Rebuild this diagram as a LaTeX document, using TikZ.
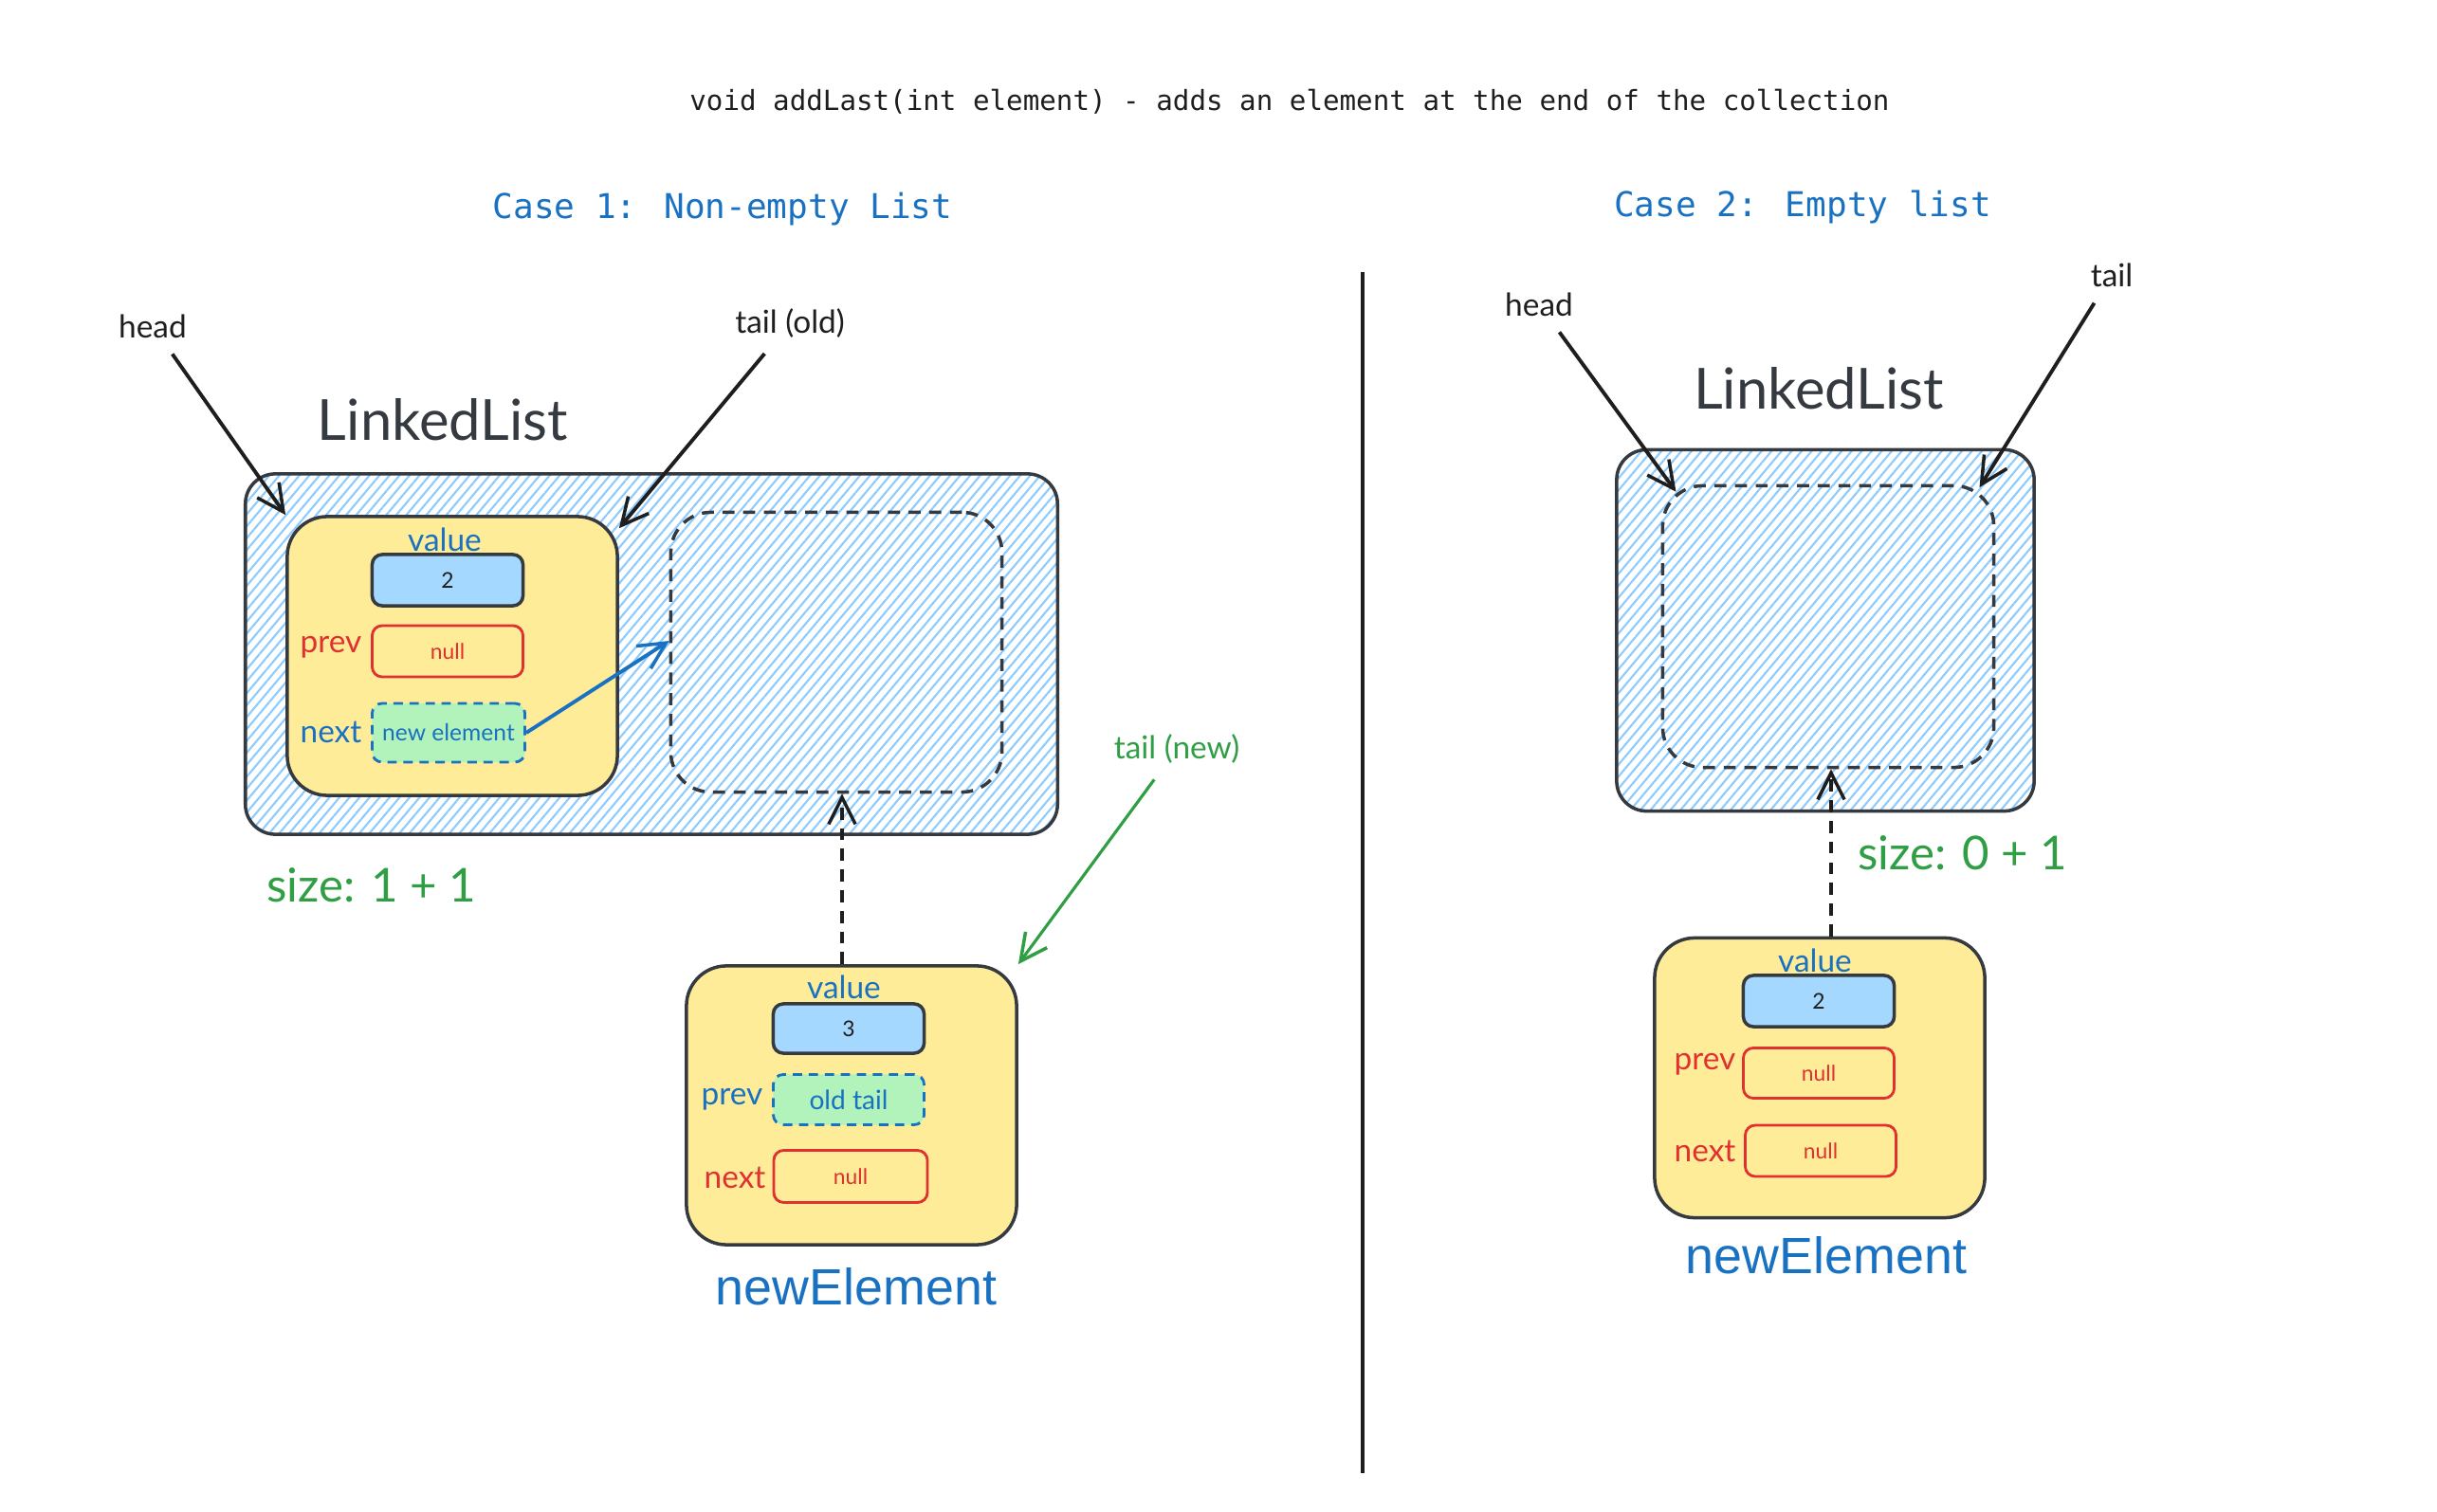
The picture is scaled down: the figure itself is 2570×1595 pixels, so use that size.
\documentclass[tikz,border=0pt]{standalone}
\usepackage{fontspec}
\setmainfont{Lato}
\newfontfamily\codefont{DejaVu Sans Mono}
\newfontfamily\helvfont{Liberation Sans}
\usetikzlibrary{arrows.meta,patterns.meta}
\definecolor{inkc}{HTML}{1E1E1E}
\definecolor{boxc}{HTML}{343A40}
\definecolor{bluec}{HTML}{1971C2}
\definecolor{redc}{HTML}{E03131}
\definecolor{greenc}{HTML}{2F9E44}
\definecolor{yellowc}{HTML}{FFEC99}
\definecolor{lbluec}{HTML}{A5D8FF}
\definecolor{hatchc}{HTML}{8CCBFF}
\definecolor{lgreenc}{HTML}{B2F2BB}
\newcommand\hsz[1]{\fontsize{#1}{#1}\selectfont}
\tikzset{
  tip/.style={-{Straight Barb[length=8pt,width=8pt,line width=1pt]}},
  ptr/.style={tip, draw=inkc, line width=1.1pt, shorten <=2pt},
  outerbox/.style={draw=boxc, line width=1pt, rounded corners=9pt, inner sep=0pt,
     pattern={Lines[angle=50,distance=2.3pt,line width=0.6pt]}, pattern color=hatchc},
  dashbox/.style={draw=boxc, line width=1pt, rounded corners=12pt, inner sep=0pt,
     dash pattern=on 3.6pt off 2.6pt},
  nodebox/.style={draw=boxc, line width=1pt, rounded corners=12pt, fill=yellowc, inner sep=0pt,
     minimum width=3.48cm, minimum height=2.94cm},
  field/.style={line width=0.8pt, rounded corners=3pt, inner sep=0pt,
     minimum width=1.59cm, minimum height=0.54cm, font=\hsz{6.5}},
  valfield/.style={field, draw=boxc, line width=1pt, fill=lbluec, text=inkc},
  nullfield/.style={field, draw=redc, text=redc},
  reffield/.style={field, draw=bluec, fill=lgreenc, text=bluec, dash pattern=on 2.8pt off 2pt},
  lbl/.style={inner sep=2pt, font=\hsz{9.5}},
  smalllbl/.style={inner sep=3pt, font=\hsz{9.5}, text=inkc},
  biglbl/.style={inner sep=0pt, font=\hsz{17}, text=boxc},
  sizelbl/.style={inner sep=0pt, font=\hsz{14}, text=greenc},
  newlbl/.style={inner sep=0pt, font=\helvfont\hsz{15.3}, text=bluec},
  casehead/.style={inner sep=0pt, font=\codefont\hsz{10.25}, text=bluec},
}
\begin{document}
\begin{tikzpicture}[x=0.01cm,y=-0.01cm]
\useasboundingbox (0,0) rectangle (2570,1595);

% titles
\node[inner sep=0pt, font=\codefont\hsz{8.3}, text=inkc] (title) at (1360,107)
  {void addLast(int element) - adds an element at the end of the collection};
\node[casehead] (case1) at (762,221) {Case 1: Non-empty List};
\node[casehead] (case2) at (1901,218) {Case 2: Empty list};

% divider
\draw[inkc, line width=1.2pt] (1437,287) -- (1437,1554);

% ---------------- Case 1 ----------------
\node[biglbl] (ll1) at (467,443) {LinkedList};
\node[outerbox, minimum width=8.56cm, minimum height=3.80cm] (outer1) at (687,690) {};
\node[nodebox] (yellow1) at (477,692) {};
\node[valfield] (val1) at (472,612) {2};
\node[nullfield] (prev1) at (472,687) {null};
\node[reffield, minimum width=1.61cm, minimum height=0.62cm, font=\hsz{7}] (next1) at (473,773) {new element};
\node[lbl, text=bluec] (vl1) at (469,569) {value};
\node[lbl, text=redc] (pl1) at (349,683) {prev};
\node[lbl, text=bluec] (nl1) at (349,772) {next};
\node[dashbox, minimum width=3.49cm, minimum height=2.95cm] (dash1) at (882,688) {};
\node[sizelbl] (size1) at (392,934) {size: 1 + 1};

\node[smalllbl] (h1) at (161,344) {head};
\node[smalllbl] (to1) at (833,341) {tail (old)};
\draw[ptr] (h1) -- (yellow1.north west);
\draw[ptr] (to1) -- ([yshift=-4pt]yellow1.north east);
\draw[tip, draw=bluec, line width=1.1pt] (next1.east) -- ([yshift=3.4pt]dash1.west);

% new element (case 1)
\node[nodebox] (new1) at (898,1166) {};
\node[valfield, minimum height=0.52cm] (nval1) at (895,1085) {3};
\node[reffield, minimum height=0.53cm, font=\hsz{8}] (nprev1) at (895,1160) {old tail};
\node[nullfield, minimum width=1.62cm, minimum height=0.55cm] (nnext1) at (897,1241) {null};
\node[lbl, text=bluec] (nvl1) at (890,1041) {value};
\node[lbl, text=bluec] (npl1) at (772,1160) {prev};
\node[lbl, text=redc] (nnl1) at (775,1242) {next};
\node[newlbl] (ne1) at (903,1357) {newElement};
\coordinate (up1) at ([xshift=-0.1cm]new1.north);
\draw[ptr, dash pattern=on 3.6pt off 2.6pt, shorten <=0pt] (up1) -- (up1 |- dash1.south);
\node[smalllbl, text=greenc] (tn1) at (1241,790) {tail (new)};
\draw[tip, draw=greenc, line width=0.9pt, shorten <=2pt] (tn1) -- (new1.north east);

% ---------------- Case 2 ----------------
\node[biglbl] (ll2) at (1918,410) {LinkedList};
\node[outerbox, minimum width=4.40cm, minimum height=3.81cm] (outer2) at (1925,665) {};
\node[dashbox, minimum width=3.49cm, minimum height=2.97cm] (dash2) at (1928,661) {};
\node[smalllbl] (h2) at (1623,321) {head};
\node[smalllbl] (t2) at (2227,290) {tail};
\draw[ptr] (h2) -- ([xshift=4.5pt,yshift=-2.3pt]dash2.north west);
\draw[ptr] (t2) -- ([xshift=-4.8pt,yshift=-1pt]dash2.north east);

\node[nodebox, minimum height=2.95cm] (new2) at (1919,1137) {};
\node[valfield] (nval2) at (1918,1056) {2};
\node[nullfield, minimum height=0.53cm] (nprev2) at (1918,1132) {null};
\node[nullfield] (nnext2) at (1920,1214) {null};
\node[lbl, text=bluec] (nvl2) at (1914,1013) {value};
\node[lbl, text=redc] (npl2) at (1798,1123) {prev};
\node[lbl, text=redc] (nnl2) at (1798,1214) {next};
\node[newlbl] (ne2) at (1926,1324) {newElement};
\coordinate (up2) at ([xshift=0.12cm]new2.north);
\draw[ptr, dash pattern=on 3.6pt off 2.6pt, shorten <=0pt] (up2) -- (up2 |- dash2.south);
\node[sizelbl] (size2) at (2070,900) {size: 0 + 1};
\end{tikzpicture}
\end{document}
